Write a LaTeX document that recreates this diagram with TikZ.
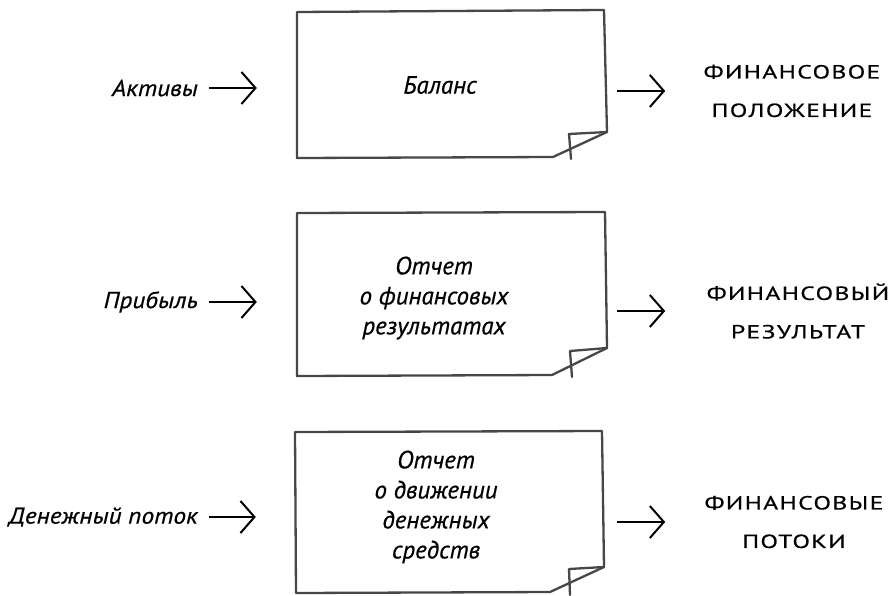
\documentclass[tikz,border=0pt]{standalone}
\usepackage{fontspec}
\usetikzlibrary{arrows.meta}
\newfontfamily\handf[FakeStretch=1.1,FakeBold=0.6]{PT Sans}
\newfontfamily\docf[FakeBold=0.6]{PT Sans}
\newfontfamily\capsf[LetterSpace=7,FakeStretch=1.35,FakeBold=0.5]{PT Sans}
\tikzset{
  hand/.style={font=\handf\itshape\fontsize{23}{30}\selectfont, inner sep=0pt},
  intext/.style={font=\docf\itshape\fontsize{25}{30}\selectfont, inner sep=0pt, align=center},
  outtext/.style={font=\capsf\fontsize{19}{38.5}\selectfont, inner sep=0pt, align=center},
  docshape/.style={draw=none, inner sep=0pt},
  docline/.style={draw=black!72, line width=2.3pt, line join=round, line cap=round},
  arr/.style={draw=black, line width=2pt, -{Straight Barb[length=14pt,width=32pt,line width=2pt]}}
}
\begin{document}
\begin{tikzpicture}[x=1pt,y=-1pt]
\useasboundingbox (0,0) rectangle (891,595);

% document outlines with folded corner
\draw[docline] (297,12) -- (604,10) -- (607,132) -- (553,157) -- (297,158) -- cycle;
\draw[docline] (607,132) -- (569,134) -- (571,159);
\draw[docline] (297,213) -- (605,212) -- (607,348) -- (552,375) -- (297,376) -- cycle;
\draw[docline] (607,348) -- (570,351) -- (572,377);
\draw[docline] (295,432) -- (602,431) -- (604,567) -- (550,592) -- (296,593) -- cycle;
\draw[docline] (604,567) -- (569,569) -- (570,595);

% invisible frames used as anchors for the arrows
\node[docshape, minimum width=309pt, minimum height=146pt] (bA) at (451.5,84.5) {};
\node[docshape, minimum width=309pt, minimum height=163pt] (bB) at (451.5,294) {};
\node[docshape, minimum width=308pt, minimum height=161pt] (bC) at (450,512) {};

% texts inside documents
\node[intext] (tA) at (440,85) {Баланс};
\node[intext] (tB) at (434,298) {Отчет\\о финансовых\\результатах};
\node[intext] (tC) at (436,507) {Отчет\\о движении\\денежных\\средств};

% inputs on the left
\node[hand, anchor=east] (lA) at (198,88) {Активы};
\node[hand, anchor=east] (lB) at (198,302) {Прибыль};
\node[hand, anchor=east] (lC) at (198,517) {Денежный поток};

% results on the right
\node[outtext] (rA) at (792,91) {ФИНАНСОВОЕ\\ПОЛОЖЕНИЕ};
\node[outtext] (rB) at (798,311) {ФИНАНСОВЫЙ\\РЕЗУЛЬТАТ};
\node[outtext] (rC) at (794,522) {ФИНАНСОВЫЕ\\ПОТОКИ};

% arrows
\draw[arr] ([xshift=11pt]lA.east) -- ([xshift=-40pt]bA.west |- lA.east);
\draw[arr] ([xshift=11pt]lB.east) -- ([xshift=-40pt]bB.west |- lB.east);
\draw[arr] ([xshift=11pt]lC.east) -- ([xshift=-40pt]bC.west |- lC.east);
\draw[arr] ([xshift=11pt]bA.east |- rA.center) -- ++(48pt,0);
\draw[arr] ([xshift=11pt]bB.east |- rB.center) -- ++(48pt,0);
\draw[arr] ([xshift=13pt]bC.east |- rC.center) -- ++(48pt,0);
\end{tikzpicture}
\end{document}
